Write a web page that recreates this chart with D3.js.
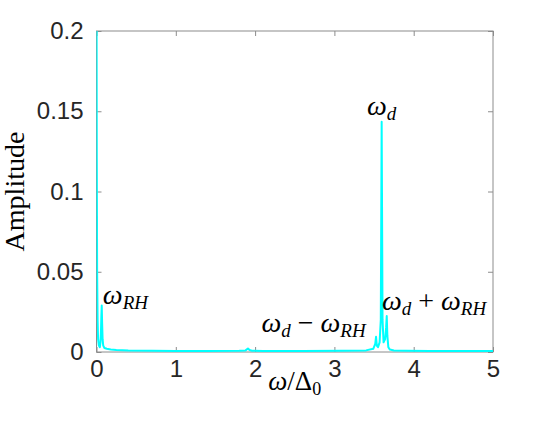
<!DOCTYPE html>
<html><head><meta charset="utf-8">
<script src="https://cdn.jsdelivr.net/npm/d3@7"></script>
<style>body{margin:0;background:#fff}</style>
</head><body>
<svg id="c" width="545" height="421"></svg>
<script>
// Spectrum samples (omega / Delta0, amplitude)
const omega = [0, 0.004, 0.008, 0.014, 0.02, 0.03, 0.042, 0.05, 0.056, 0.061, 0.066, 0.071, 0.077, 0.085, 0.1, 0.13, 0.18, 0.25, 0.4, 0.7, 1.0, 1.4, 1.8, 1.88, 1.91, 1.93, 1.96, 2.1, 2.6, 3.1, 3.4, 3.49, 3.515, 3.525, 3.535, 3.55, 3.57, 3.585, 3.596, 3.607, 3.62, 3.64, 3.652, 3.66, 3.668, 3.68, 3.7, 3.75, 3.9, 4.2, 4.6, 5.0];
const amplitude = [0.25, 0.12, 0.05, 0.02, 0.008, 0.004, 0.003, 0.006, 0.012, 0.022, 0.029, 0.018, 0.008, 0.004, 0.0025, 0.002, 0.0016, 0.0013, 0.001, 0.0008, 0.0007, 0.0007, 0.0008, 0.001, 0.0022, 0.0012, 0.0008, 0.0007, 0.0007, 0.0008, 0.001, 0.002, 0.005, 0.0095, 0.004, 0.003, 0.006, 0.02, 0.1435, 0.02, 0.006, 0.008, 0.015, 0.0224, 0.01, 0.003, 0.0015, 0.001, 0.0008, 0.0007, 0.0007, 0.0007];
const xTicks = [0, 1, 2, 3, 4, 5];
const yTicks = [0, 0.05, 0.1, 0.15, 0.2];
const yTickLabels = ["0", "0.05", "0.1", "0.15", "0.2"];

const svg = d3.select("#c");
const L = 96.5, R = 493, T = 31, B = 352;
const x = d3.scaleLinear().domain([0, 5]).range([L, R]);
const y = d3.scaleLinear().domain([0, 0.2]).range([B, T]);
const axCol = "#8c8c8c";
const tickFont = "'Liberation Sans', Arial, sans-serif";
const serif = "'Liberation Serif', 'DejaVu Serif', serif";

svg.append("clipPath").attr("id", "clip").append("rect")
  .attr("x", L).attr("y", T).attr("width", R - L).attr("height", B - T);

function styleAxis(g, showLabels) {
  g.select(".domain").remove();
  g.selectAll(".tick line").attr("stroke", axCol).attr("stroke-width", 1);
  g.selectAll(".tick text").attr("fill", "#262626").style("font-family", tickFont).style("font-size", "24px");
  if (!showLabels) g.selectAll(".tick text").remove();
}

svg.append("g").attr("transform", `translate(0,${B})`)
  .call(d3.axisBottom(x).tickValues(xTicks).tickFormat(d3.format("d")).tickSizeInner(-5).tickPadding(8))
  .call(g => styleAxis(g, true));
svg.append("g").attr("transform", `translate(0,${T})`)
  .call(d3.axisTop(x).tickValues(xTicks).tickSizeInner(-5))
  .call(g => styleAxis(g, false));
svg.append("g").attr("transform", `translate(${L},0)`)
  .call(d3.axisLeft(y).tickValues(yTicks).tickFormat((d, i) => yTickLabels[i]).tickSizeInner(-5).tickPadding(13))
  .call(g => styleAxis(g, true));
svg.append("g").attr("transform", `translate(${R},0)`)
  .call(d3.axisRight(y).tickValues(yTicks).tickSizeInner(-5))
  .call(g => styleAxis(g, false));

svg.append("rect").attr("x", L).attr("y", T).attr("width", R - L).attr("height", B - T)
  .attr("fill", "none").attr("stroke", axCol).attr("stroke-width", 1);

const data = omega.map((w, i) => [w, amplitude[i]]);
svg.append("path").datum(data)
  .attr("clip-path", "url(#clip)")
  .attr("fill", "none").attr("stroke", "#00ffff").attr("stroke-width", 2)
  .attr("stroke-linejoin", "round")
  .attr("d", d3.line().x(d => x(d[0])).y(d => y(d[1])));

// annotations
function label(px, py, parts) {
  const t = svg.append("text").attr("x", px).attr("y", py)
    .style("font-family", serif).style("font-size", "28px").attr("fill", "#000");
  parts.forEach(p => {
    const s = t.append("tspan").text(p.t);
    if (p.i) s.style("font-style", "italic");
    if (p.sub) s.style("font-size", "19px").attr("dy", 5);
    if (p.up) s.attr("dy", -5);
    if (p.dx) s.attr("dx", p.dx);
  });
}
label(x(0.08), 304, [{t: "ω", i: 1}, {t: "RH", i: 1, sub: 1}]);
label(x(3.41), 115, [{t: "ω", i: 1}, {t: "d", i: 1, sub: 1}]);
label(x(3.6), 310, [{t: "ω", i: 1}, {t: "d", i: 1, sub: 1}, {t: " + ", up: 1}, {t: "ω", i: 1}, {t: "RH", i: 1, sub: 1}]);
label(x(2.08), 332, [{t: "ω", i: 1}, {t: "d", i: 1, sub: 1}, {t: " − ", up: 1}, {t: "ω", i: 1}, {t: "RH", i: 1, sub: 1}]);

// axis titles
const xt = svg.append("text").attr("x", (L + R) / 2).attr("y", 390).attr("text-anchor", "middle")
  .style("font-family", serif).style("font-size", "27px");
xt.append("tspan").text("ω").style("font-style", "italic");
xt.append("tspan").text("/Δ");
xt.append("tspan").text("0").style("font-size", "18px").attr("dy", 5);

svg.append("text").attr("transform", `translate(24,${(T + B) / 2}) rotate(-90)`)
  .attr("text-anchor", "middle").style("font-family", serif).style("font-size", "28px")
  .text("Amplitude");
</script>
</body></html>
